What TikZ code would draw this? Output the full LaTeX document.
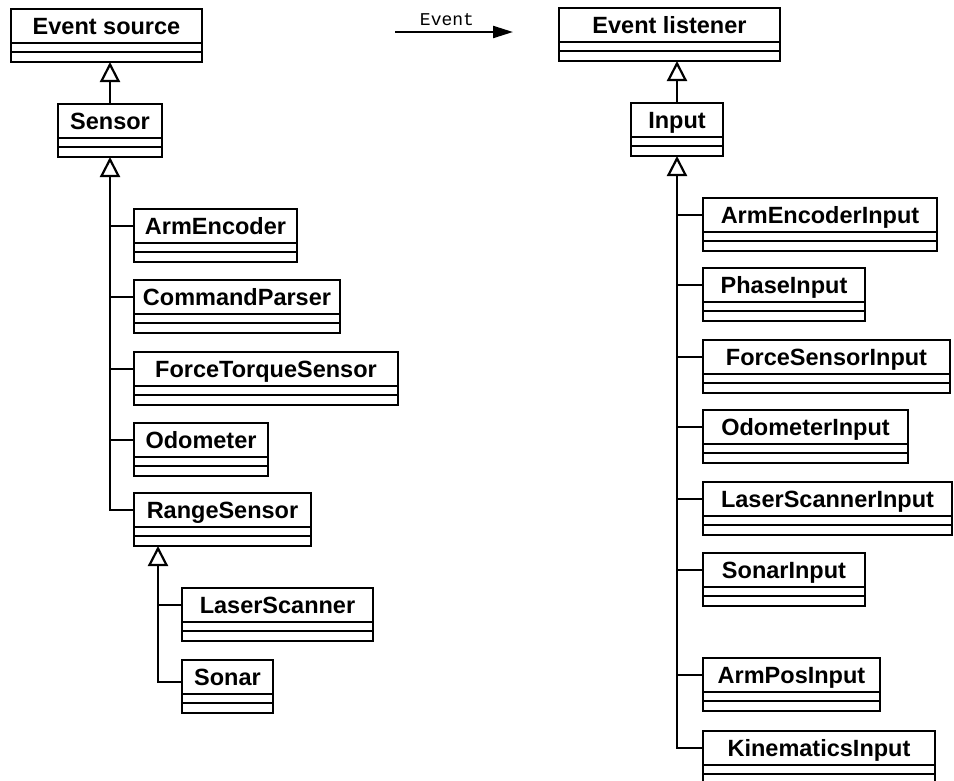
\documentclass[tikz,border=0pt]{standalone}
\usepackage{fontspec}
\setmainfont{Liberation Sans}
\newfontfamily\codefont{Liberation Mono}
\usetikzlibrary{arrows.meta,calc}

\tikzset{
  uml/.style={line width=2.2pt},
  clsname/.style={draw, uml, inner sep=0pt, outer sep=0pt, minimum height=34pt,
    anchor=north west, font=\fontsize{23.5}{27}\selectfont\bfseries,
    text height=16.5pt, text depth=0pt},
  clscomp/.style={draw, uml, inner sep=0pt, outer sep=0pt, anchor=north},
  inherit/.style={uml, -{Triangle[open, length=20pt, width=20pt]}},
  msgarrow/.style={uml, -{Triangle[length=20pt, width=12pt]}},
}

% class box: name, left x, top y, width, label
\newcommand\umlclass[5]{%
  \node[clsname, minimum width=#4pt] (#1) at (#2,#3) {#5};
  \node[clscomp, minimum width=#4pt, minimum height=9pt] (#1-a) at (#1.south) {};
  \node[clscomp, minimum width=#4pt, minimum height=10pt] (#1-b) at (#1-a.south) {};
}

\begin{document}
\begin{tikzpicture}[x=1pt, y=-1pt]
  \useasboundingbox (0,0) rectangle (954,780);

  % source hierarchy
  \umlclass{src}{11}{9}{191}{Event source}
  \umlclass{sensor}{58}{104}{104}{Sensor}
  \umlclass{armenc}{134}{209}{163}{ArmEncoder}
  \umlclass{cmdparser}{134}{280}{206}{CommandParser}
  \umlclass{forcetorque}{134}{352}{264}{ForceTorqueSensor}
  \umlclass{odometer}{134}{423}{134}{Odometer}
  \umlclass{rangesensor}{134}{493}{177}{RangeSensor}
  \umlclass{laserscanner}{182}{588}{191}{LaserScanner}
  \umlclass{sonar}{182}{660}{91}{Sonar}

  % listener hierarchy
  \umlclass{listener}{559}{8}{221}{Event listener}
  \umlclass{input}{631}{103}{92}{Input}
  \umlclass{armencin}{703}{198}{234}{ArmEncoderInput}
  \umlclass{phasein}{703}{268}{162}{PhaseInput}
  \umlclass{forcein}{703}{340}{247}{ForceSensorInput}
  \umlclass{odomin}{703}{410}{205}{OdometerInput}
  \umlclass{laserin}{703}{482}{249}{LaserScannerInput}
  \umlclass{sonarin}{703}{553}{162}{SonarInput}
  \umlclass{armposin}{703}{658}{177}{ArmPosInput}
  \umlclass{kinin}{703}{731}{232}{KinematicsInput}

  % generalisations, source side: one trunk per parent, short branches to it
  \draw[inherit] (sensor.north) -- (sensor.north |- src-b.south);
  \draw[inherit] (rangesensor.west) -| (sensor-b.south);
  \foreach \c in {armenc,cmdparser,forcetorque,odometer}
    \draw[uml] (\c.west) -- (\c.west -| sensor-b.south);
  \coordinate (rstip) at ([xshift=24pt]rangesensor-b.south west);
  \draw[inherit] ([yshift=-5pt]sonar.west) -| (rstip);
  \draw[uml] (laserscanner.west) -- (laserscanner.west -| rstip);

  % generalisations, listener side
  \draw[inherit] (input.north) -- (input.north |- listener-b.south);
  \draw[inherit] (kinin.west) -| (input-b.south);
  \foreach \c in {armencin,phasein,forcein,odomin,laserin,sonarin,armposin}
    \draw[uml] (\c.west) -- (\c.west -| input-b.south);

  % event flow
  \coordinate (evfrom) at (395,32);
  \coordinate (evto) at (513,32);
  \draw[msgarrow] (evfrom) -- (evto);
  \node[font=\codefont\fontsize{18}{20}\selectfont, inner sep=0pt] (evlabel) at (447,20) {Event};
\end{tikzpicture}
\end{document}
